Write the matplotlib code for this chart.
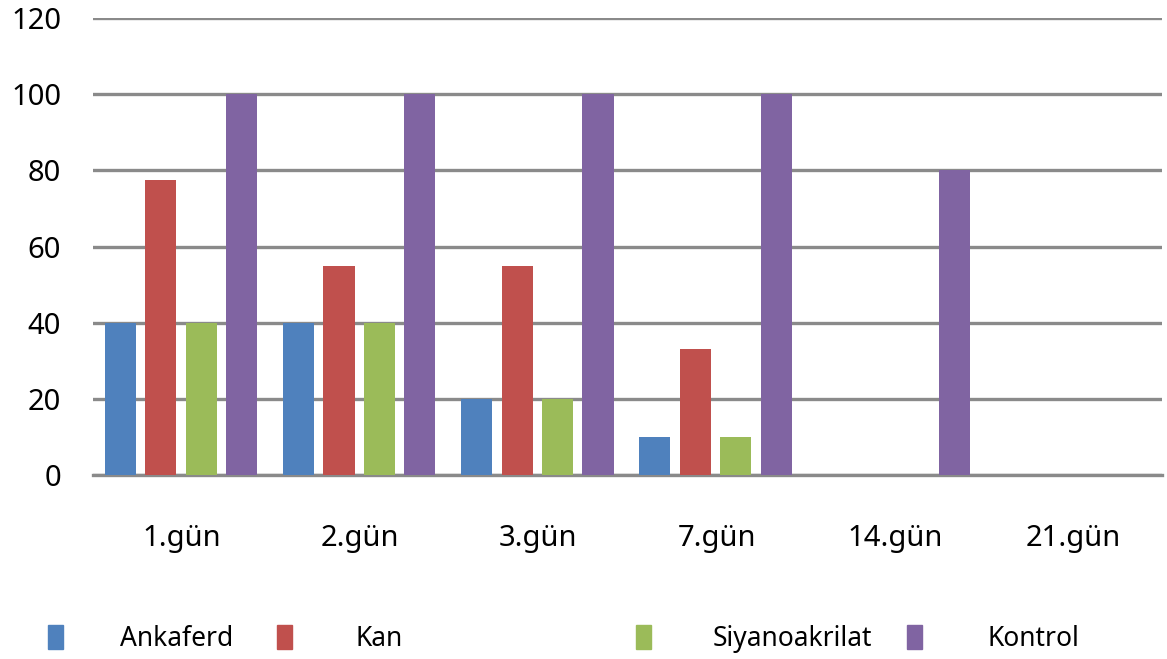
import matplotlib
matplotlib.use("Agg")
import matplotlib.pyplot as plt
import numpy as np
from matplotlib.patches import Rectangle

days = ["1.gün", "2.gün", "3.gün", "7.gün", "14.gün", "21.gün"]
series_names = ["Ankaferd", "Kan", "Siyanoakrilat", "Kontrol"]
ankaferd = [40, 40, 20, 10, 0, 0]
kan = [77.5, 55, 55, 33, 0, 0]
siyanoakrilat = [40, 40, 20, 10, 0, 0]
kontrol = [100, 100, 100, 100, 80, 0]
yticks = [0, 20, 40, 60, 80, 100, 120]

colors = ["#4F81BD", "#C0504D", "#9BBB59", "#8064A2"]
series = [ankaferd, kan, siyanoakrilat, kontrol]

FONT = "Noto Sans"
W, H = 1167, 659
fig = plt.figure(figsize=(W / 100, H / 100), dpi=100)
ax = fig.add_axes([93 / W, (H - 475) / H, (1162 - 93) / W, (475 - 18) / H])

x = np.arange(len(days))
pitch = 0.227
width = 0.175
for i, (vals, c) in enumerate(zip(series, colors)):
    offs = (i - 1.5) * pitch - 0.006
    ax.bar(x + offs, vals, width=width, color=c, zorder=3, linewidth=0)

ax.set_xlim(-0.5, len(days) - 0.5)
ax.set_ylim(0, 120)
ax.set_yticks(yticks)
ax.set_yticklabels([str(v) for v in yticks], fontsize=21, family=FONT)
ax.set_xticks(x)
ax.set_xticklabels(days, fontsize=21, family=FONT)
ax.tick_params(axis="y", length=0, pad=23)
ax.tick_params(axis="x", length=0, pad=35)
ax.yaxis.grid(True, color="#8a8a8a", linewidth=2.4, zorder=0)
for s in ["top", "right", "left"]:
    ax.spines[s].set_visible(False)
ax.spines["bottom"].set_color("#8a8a8a")
ax.spines["bottom"].set_linewidth(2.4)

# legend row along the bottom
marker_x = [48, 277, 636, 907]
text_x = [120, 355, 713, 987]
ly = 637
for name, c, mx, tx in zip(series_names, colors, marker_x, text_x):
    fig.patches.append(Rectangle((mx / W, (H - ly - 12) / H), 15 / W, 24 / H,
                                 transform=fig.transFigure, color=c))
    fig.text(tx / W, (H - ly - 2) / H, name, fontsize=19, family=FONT,
             va="center", ha="left")

fig.savefig("out.png", dpi=100)
